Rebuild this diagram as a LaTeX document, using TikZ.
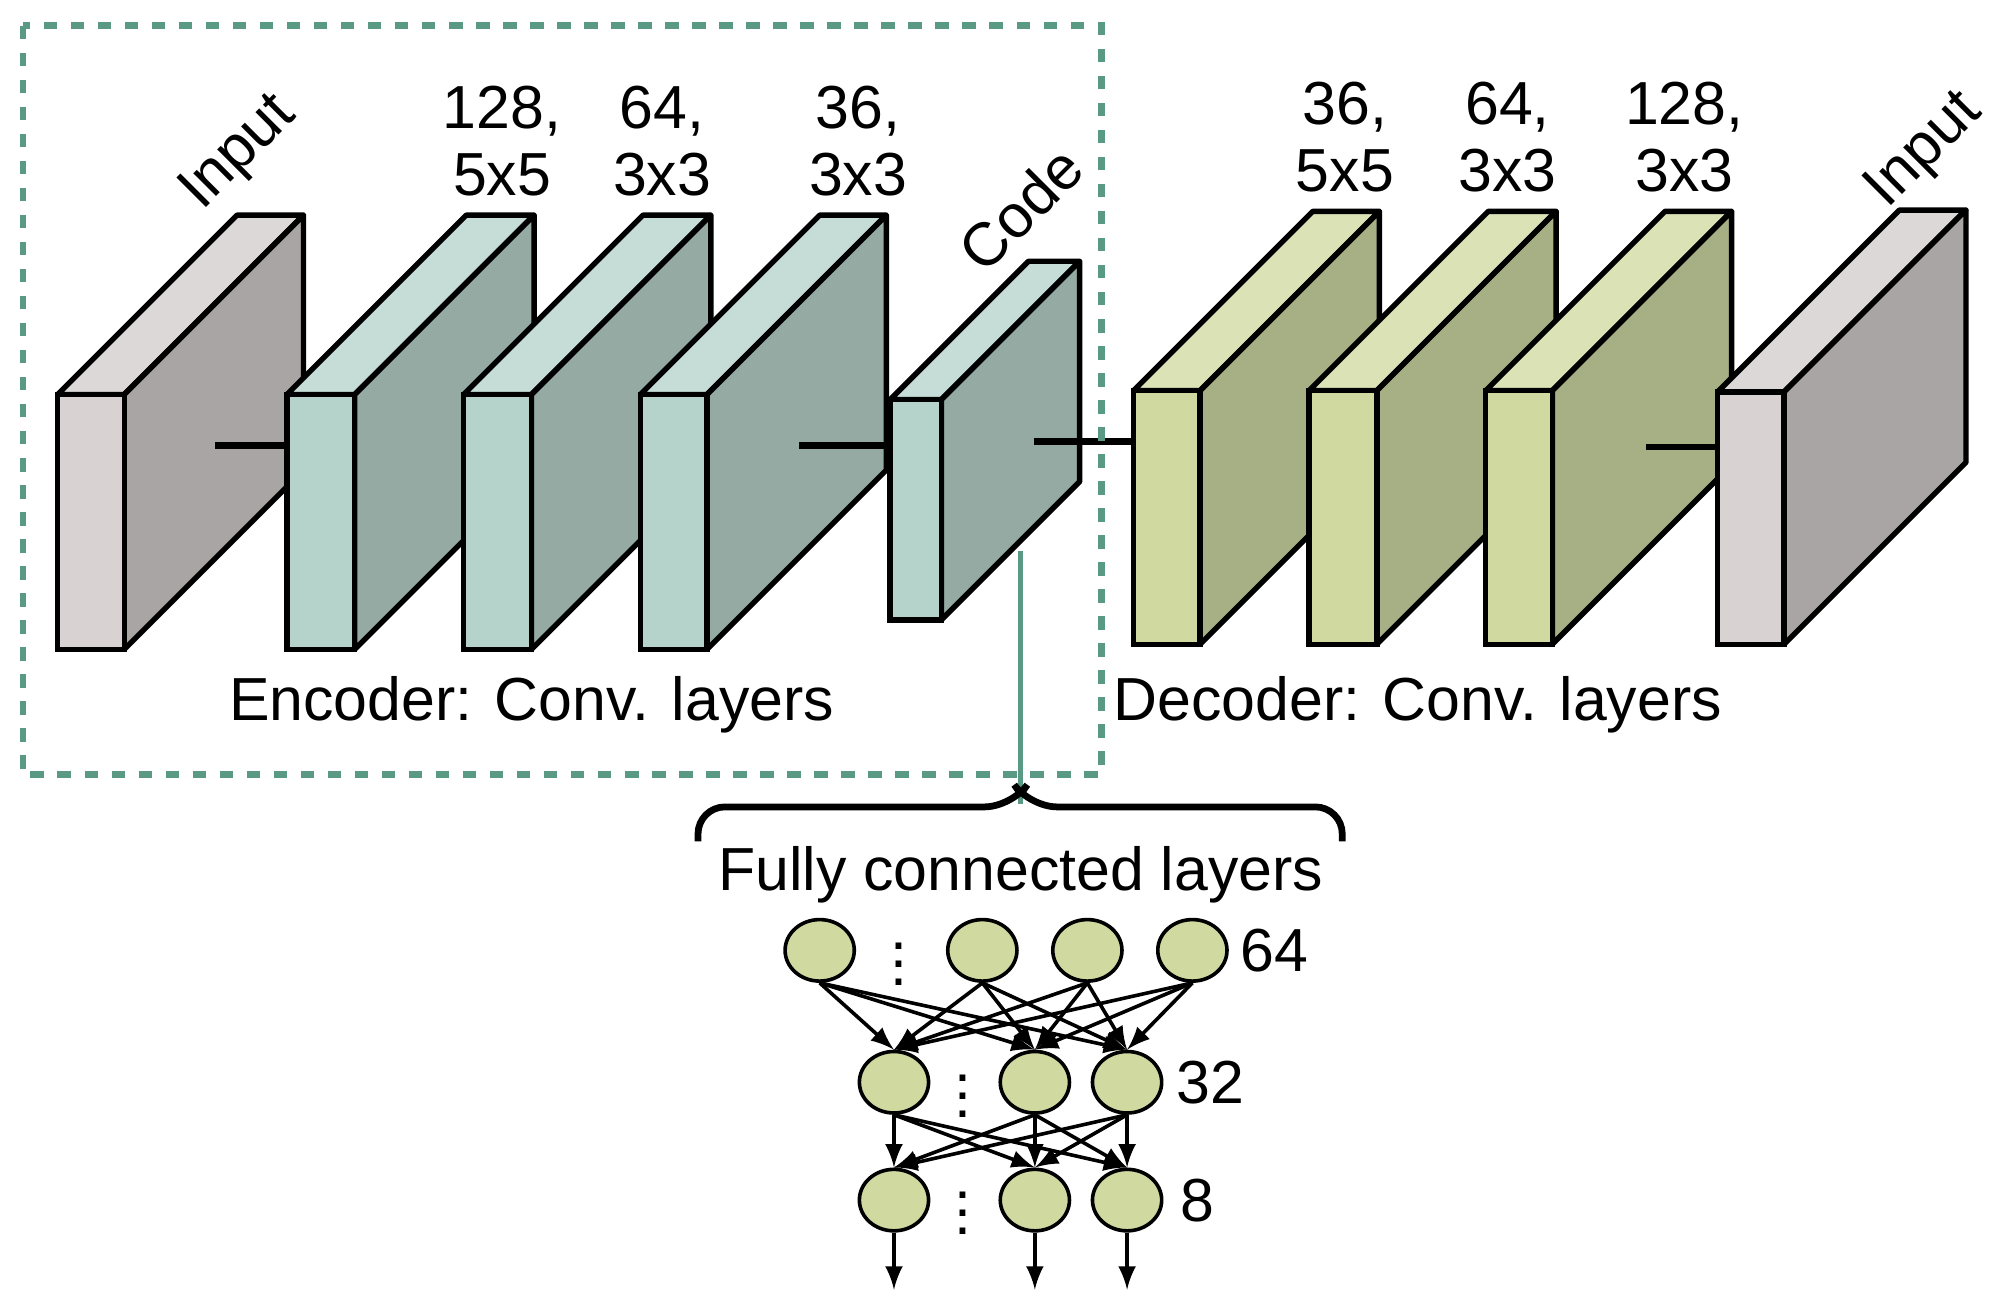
\documentclass[tikz,border=0pt]{standalone}
\usepackage{fontspec}
\setmainfont{Liberation Sans}
\usetikzlibrary{positioning}
\usetikzlibrary{calc}
\usetikzlibrary{arrows,shapes,backgrounds}
\definecolor{grayF}{HTML}{D8D2D2}\definecolor{grayT}{HTML}{DDD8D8}\definecolor{grayS}{HTML}{A9A5A4}
\definecolor{tealF}{HTML}{B5D3CB}\definecolor{tealT}{HTML}{C6DDD7}\definecolor{tealS}{HTML}{94AAA2}
\definecolor{grnF}{HTML}{D0D9A0}\definecolor{grnT}{HTML}{DAE2B6}\definecolor{grnS}{HTML}{A7B084}
\definecolor{frame}{HTML}{5A9A84}
\newcommand{\slab}[8]{% x1 x2 ytop ybot depth front top side
  \filldraw[fill=#7,line width=1.2pt,line join=round] (#1,-#3)--(#2,-#3)--(#2+#5,-#3+#5)--(#1+#5,-#3+#5)--cycle;
  \filldraw[fill=#8,line width=1.2pt,line join=round] (#2,-#3)--(#2+#5,-#3+#5)--(#2+#5,-#4+#5)--(#2,-#4)--cycle;
  \filldraw[fill=#6,line width=1.2pt] (#1,-#3) rectangle (#2,-#4);}
\begin{document}
\begin{tikzpicture}[x=0.01cm,y=0.01cm,
  lbl/.style={font=\fontsize{13.5}{15}\selectfont,align=center},
  neuron/.style={ellipse,draw,fill=grnF,minimum width=0.54cm,minimum height=0.48cm,inner sep=0,line width=0.8pt},
  link/.style={-latex,line width=0.8pt}]
\useasboundingbox (0,0) rectangle (1560,-1024);

%encoder
\slab{45}{97}{308}{507}{140}{grayF}{grayT}{grayS}
\slab{224}{277}{308}{507}{140}{tealF}{tealT}{tealS}
\slab{362}{415}{308}{507}{140}{tealF}{tealT}{tealS}
\slab{500}{552}{308}{507}{140}{tealF}{tealT}{tealS}
\slab{695}{735}{312}{484}{108}{tealF}{tealT}{tealS}
%decoder
\slab{885}{937}{305}{503}{140}{grnF}{grnT}{grnS}
\slab{1022}{1075}{305}{503}{140}{grnF}{grnT}{grnS}
\slab{1160}{1212}{305}{503}{140}{grnF}{grnT}{grnS}
\slab{1341}{1393}{306}{503}{142}{grayF}{grayT}{grayS}

%polaczenia
\foreach \a/\b/\y in {168/224/348,624/695/348,807/885/345,1285/1341/349}
  \draw[line width=1.5pt] (\a,-\y)--(\b,-\y);

%opisy
\node[lbl,rotate=45] (in1) at (187,-120) {Input};
\node[lbl] (e1) at (392,-110) {128,\\5x5};
\node[lbl] (e2) at (517,-110) {64,\\3x3};
\node[lbl] (e3) at (670,-110) {36,\\3x3};
\node[lbl,rotate=45] (code) at (797,-163) {Code};
\node[lbl] (d1) at (1050,-107) {36,\\5x5};
\node[lbl] (d2) at (1177,-107) {64,\\3x3};
\node[lbl] (d3) at (1315,-107) {128,\\3x3};
\node[lbl,rotate=45] (in2) at (1503,-118) {Input};
\node[lbl] (enc) at (415,-550) {Encoder: Conv. layers};
\node[lbl] (dec) at (1107,-550) {Decoder: Conv. layers};

\draw[frame,dashed,line width=1.5pt] (18,-20) rectangle (860,-605);
\draw[frame,line width=1.2pt] (797,-430)--(797,-628);

%klamra
\draw[line width=1.5pt,rounded corners=6] (545,-657)--(545,-630)--(790,-630)--(797,-620);
\draw[line width=1.5pt,rounded corners=6] (1048,-657)--(1048,-630)--(804,-630)--(797,-620);
\node[lbl] (fc) at (797,-683) {Fully connected layers};

%neurony
\foreach \i/\x in {1/640,2/767,3/849,4/931} \node[neuron] (a\i) at (\x,-742) {};
\foreach \i/\x in {1/698,2/808,3/880} {
  \node[neuron] (b\i) at (\x,-845) {};
  \node[neuron] (c\i) at (\x,-937) {};
  \coordinate (o\i) at (\x,-1007);
}
\node[lbl] at (702,-742) {$\vdots$};
\node[lbl] at (752,-845) {$\vdots$};
\node[lbl] at (752,-937) {$\vdots$};
\node[lbl] at (995,-742) {64};
\node[lbl] at (945,-845) {32};
\node[lbl] at (935,-937) {8};
\foreach \i in {1,...,4} \foreach \j in {1,2,3} \draw[link] (a\i.south)--(b\j.north);
\foreach \i in {1,2,3} {
  \foreach \j in {1,2,3} \draw[link] (b\i.south)--(c\j.north);
  \draw[link] (c\i)--(o\i);
}
\end{tikzpicture}
\end{document}
